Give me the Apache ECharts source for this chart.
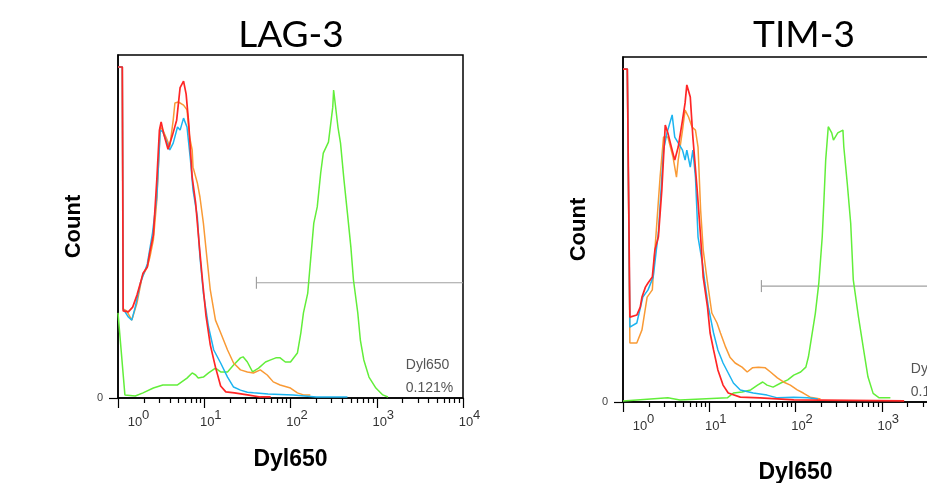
<!DOCTYPE html>
<html><head><meta charset="utf-8">
<script src="https://cdn.jsdelivr.net/npm/echarts@6/dist/echarts.min.js"></script>
<style>html,body{margin:0;padding:0;background:#fff}#c{width:927px;height:483px}</style>
</head><body><div id="c"></div>
<script>
// x values are log10(Dyl650 intensity), y values are relative counts (0-100)
const panelTitles = ['LAG-3', 'TIM-3'];
const xAxisName = 'Dyl650';
const yAxisName = 'Count';
const decadeExponents = [0, 1, 2, 3, 4];
const gateStart = 1.605, gateEnd = 4, gateLevel = 33.6;
const statLabel = 'Dyl650', statValue = '0.121%';

const lag3Red = [[0,96.5],[0.05,96.5],[0.06,25.4],[0.12,25.1],[0.17,26.5],[0.22,30],[0.26,33.5],[0.29,36.4],[0.34,38.2],[0.37,42.6],[0.41,47.5],[0.45,63.6],[0.48,78],[0.5,80.5],[0.53,77],[0.58,72.5],[0.63,76.5],[0.68,81],[0.72,90.5],[0.76,92.4],[0.79,88.6],[0.82,80],[0.86,64.4],[0.9,56.9],[0.94,45.2],[0.98,34.1],[1.02,24],[1.07,15.5],[1.13,9],[1.19,3.5],[1.25,1.8],[1.35,1.5],[1.5,0.9],[1.65,0.3],[1.77,0.3]];
const lag3Blue = [[0,96.5],[0.05,96.5],[0.06,26],[0.08,25.7],[0.12,23.6],[0.16,22.7],[0.2,26.5],[0.26,33.5],[0.34,39.1],[0.4,48.1],[0.45,58.6],[0.49,78.1],[0.52,77.6],[0.57,74.3],[0.6,72.3],[0.64,74.3],[0.69,79],[0.72,78.1],[0.76,81.6],[0.8,79],[0.84,69.4],[0.87,60.6],[0.92,52.8],[0.95,41.1],[0.99,30.6],[1.05,20.7],[1.11,14],[1.19,10.2],[1.27,6.1],[1.34,3.2],[1.42,2.3],[1.5,1.7],[1.57,1.5],[1.74,1.2],[2.03,0.9],[2.3,0.3],[2.66,0.3]];
const lag3Orange = [[0,96.5],[0.05,96.5],[0.06,26],[0.1,25.4],[0.16,22.7],[0.22,27.7],[0.28,35.3],[0.34,38.2],[0.37,41.1],[0.41,46.1],[0.45,57.7],[0.49,79],[0.52,78.1],[0.57,75.2],[0.6,73.2],[0.64,81],[0.66,86],[0.7,86.3],[0.76,85.4],[0.8,84],[0.83,76.1],[0.86,72.3],[0.87,67.3],[0.92,62.7],[0.95,58.6],[0.99,51],[1.03,41.1],[1.07,31.5],[1.13,22.7],[1.19,19],[1.27,14],[1.34,10.2],[1.42,8.2],[1.5,7.6],[1.57,7.3],[1.65,8.2],[1.73,6.7],[1.8,4.7],[1.88,3.8],[2,2.9],[2.08,1.5],[2.15,0.9],[2.23,0.9]];
const lag3Green = [[0,24.8],[0.08,0.9],[0.2,0.6],[0.29,1.5],[0.41,2.9],[0.52,3.8],[0.69,3.8],[0.8,5.8],[0.86,7.3],[0.9,6.7],[0.93,5.8],[0.99,6.1],[1.05,7.3],[1.13,8.7],[1.19,7.6],[1.27,7.6],[1.34,9.6],[1.42,11.7],[1.45,12],[1.5,10.5],[1.56,7.6],[1.63,8.7],[1.71,10.5],[1.77,11.1],[1.83,11.7],[1.88,11.7],[1.94,10.5],[2,10.5],[2.08,13.1],[2.12,19],[2.15,24.8],[2.2,30.6],[2.24,42.3],[2.27,51],[2.31,55.7],[2.35,65.6],[2.38,71.4],[2.44,74.6],[2.49,84.8],[2.5,89.8],[2.55,79],[2.58,74.3],[2.62,63.6],[2.66,53.9],[2.7,44],[2.73,34.4],[2.78,24.8],[2.81,16.9],[2.85,11.1],[2.91,6.1],[2.99,2.9],[3.07,0.9],[3.13,0.3]];

const tim3Red = [[0,96.5],[0.05,96.5],[0.08,24.6],[0.1,24.6],[0.16,25.2],[0.2,27.5],[0.22,30.4],[0.26,33.3],[0.29,34.5],[0.34,36.2],[0.37,44.1],[0.41,47.8],[0.45,61.4],[0.49,80.3],[0.52,78],[0.57,73],[0.6,70.1],[0.64,73.9],[0.69,81.7],[0.72,86.7],[0.74,91.9],[0.78,88.4],[0.81,76.8],[0.86,61.4],[0.9,47.8],[0.93,36.2],[0.98,27.5],[1.01,20],[1.05,15.1],[1.1,9.3],[1.16,4.9],[1.22,2.6],[1.36,1.4],[1.59,1.2],[1.98,0.6],[3.26,0.3]];
const tim3Blue = [[0,96.5],[0.05,96.5],[0.08,21.7],[0.16,22.9],[0.23,30.4],[0.29,32.5],[0.35,36.2],[0.41,49],[0.47,73],[0.51,78],[0.57,83.2],[0.6,76.8],[0.64,75.1],[0.69,73],[0.72,70.1],[0.74,73],[0.78,68.1],[0.81,73],[0.84,65.2],[0.87,47.8],[0.92,40.3],[0.95,34.5],[0.99,27.5],[1.05,20],[1.1,15.1],[1.16,11.3],[1.22,8.4],[1.28,5.5],[1.36,3.5],[1.51,2.6],[1.67,2],[1.79,1.2],[1.98,1.4],[2.14,1.2],[2.26,0.9]];
const tim3Orange = [[0,96.5],[0.05,96.5],[0.08,17.1],[0.16,17.1],[0.22,20.9],[0.28,30.4],[0.34,32.5],[0.37,44.1],[0.43,65.2],[0.47,76.8],[0.52,76.8],[0.58,71],[0.62,65.2],[0.64,70.1],[0.69,78.8],[0.72,84.6],[0.76,82.6],[0.8,79.7],[0.84,78.8],[0.87,73.9],[0.9,55.7],[0.93,44.1],[0.98,34.5],[1.03,25.8],[1.09,22.9],[1.13,20],[1.19,15.9],[1.24,13],[1.3,11.3],[1.38,10.1],[1.44,8.7],[1.5,9.9],[1.57,10.1],[1.65,9.9],[1.71,8.7],[1.79,7],[1.86,5.8],[1.94,4.9],[2.02,3.5],[2.09,2.6],[2.17,1.4],[2.29,0.9]];
const tim3Green = [[0,0.3],[0.52,1.2],[0.66,0.6],[1.21,1.2],[1.28,2.6],[1.38,2.9],[1.48,3.5],[1.56,4.9],[1.62,5.8],[1.67,4.9],[1.74,4.3],[1.83,5.5],[1.91,6.4],[1.98,7.8],[2.06,8.7],[2.12,10.1],[2.15,13.1],[2.23,25.7],[2.27,34.4],[2.31,47.9],[2.33,58.6],[2.35,70.1],[2.38,79.8],[2.42,78],[2.44,75.9],[2.49,78],[2.55,78.8],[2.56,74],[2.6,63.4],[2.64,51.8],[2.67,35.4],[2.73,24.7],[2.79,15.1],[2.84,7.3],[2.9,2.5],[2.97,1.2],[3.1,1.2]];

const statPos = [[3.337, 9.6], [3.337, 2.9]];

const panels = [
  { title: panelTitles[0], red: lag3Red, blue: lag3Blue, orange: lag3Orange, green: lag3Green,
    grid: {left: 118, top: 55, width: 345, height: 343}, titleX: 291, titleTop: 17, nameGap: 50 },
  { title: panelTitles[1], red: tim3Red, blue: tim3Blue, orange: tim3Orange, green: tim3Green,
    grid: {left: 623, top: 57, width: 345, height: 345}, titleX: 804, titleTop: 17, nameGap: 59 }
];
const colors = { red: '#ff2626', blue: '#1cb4f0', orange: '#f99a35', green: '#62ee3a' };

// minor tick positions on the log axis
const minorTicks = [];
for (let d = 0; d < 4; d++) for (let k = 2; k <= 9; k++) minorTicks.push(d + Math.log10(k));

const option = { animation: false, backgroundColor: '#fff', title: [], grid: [], xAxis: [], yAxis: [], series: [] };

panels.forEach((p, i) => {
  option.title.push({ text: p.title, left: p.titleX, top: p.titleTop, textAlign: 'center', padding: 0,
    textStyle: { fontFamily: 'Lato', fontSize: 37, fontWeight: 'normal', color: '#000' } });
  option.grid.push(Object.assign({ show: true, borderColor: '#000', borderWidth: 1.5, backgroundColor: 'transparent',
    containLabel: false, outerBoundsMode: 'none' }, p.grid));
  option.xAxis.push({
    gridIndex: i, type: 'value', min: 0, max: 4, interval: 1, position: 'bottom',
    axisLine: { show: true, lineStyle: { color: '#000', width: 1.5 } },
    axisTick: { show: true, length: 10, lineStyle: { color: '#000', width: 1.2 } },
    splitLine: { show: false },
    axisLabel: {
      margin: 11, color: '#333', fontFamily: 'Liberation Sans', fontSize: 13, hideOverlap: false,
      formatter: v => (v === 0 ? '{f|10}{s|' + v + '}' : '{a|10}{s|' + v + '}'),
      rich: {
        a: { fontSize: 13, lineHeight: 14, padding: [12, 0, 0, 13], color: '#333', fontFamily: 'Liberation Sans' },
        f: { fontSize: 13, lineHeight: 14, padding: [12, 0, 0, 41], color: '#333', fontFamily: 'Liberation Sans' },
        s: { fontSize: 13, lineHeight: 14, verticalAlign: 'top', color: '#333', fontFamily: 'Liberation Sans' }
      }
    },
    name: xAxisName, nameLocation: 'middle', nameGap: p.nameGap,
    nameTextStyle: { fontFamily: 'Liberation Sans', fontWeight: 'bold', fontSize: 23, color: '#000' }
  });
  option.xAxis.push({
    gridIndex: i, type: 'value', min: 0, max: 4, position: 'bottom', offset: 0,
    axisLine: { show: false }, splitLine: { show: false }, axisLabel: { show: false },
    axisTick: { show: true, length: 5, customValues: minorTicks, lineStyle: { color: '#000', width: 1.2 } }
  });
  option.yAxis.push({
    gridIndex: i, type: 'value', min: 0, max: 100,
    axisLine: { show: true, lineStyle: { color: '#000', width: 1.5 } },
    axisTick: { show: true, length: 9, customValues: [0], lineStyle: { color: '#000', width: 1.2 } },
    axisLabel: { show: true, customValues: [0], margin: 15, color: '#444', fontFamily: 'Liberation Sans', fontSize: 11 },
    splitLine: { show: false },
    name: yAxisName, nameLocation: 'middle', nameGap: 33, nameRotate: 90,
    nameTextStyle: { fontFamily: 'Liberation Sans', fontWeight: 'bold', fontSize: 22, color: '#000' }
  });
  const xi = i * 2;
  ['green', 'orange', 'blue', 'red'].forEach(c => {
    option.series.push({
      type: 'line', xAxisIndex: xi, yAxisIndex: i, data: p[c], showSymbol: false, symbol: 'none',
      lineStyle: { color: colors[c], width: c === 'red' ? 1.7 : 1.5 }, z: 3
    });
  });
  option.series.push({
    type: 'custom', xAxisIndex: xi, yAxisIndex: i, data: [[gateStart, gateEnd, gateLevel]],
    encode: { x: [0, 1], y: 2 }, z: 2,
    renderItem: (params, api) => {
      const a = api.coord([api.value(0), api.value(2)]);
      const b = api.coord([api.value(1), api.value(2)]);
      return { type: 'group', children: [
        { type: 'line', shape: { x1: a[0], y1: a[1], x2: b[0], y2: b[1] }, style: { stroke: '#a0a0a0', lineWidth: 1.2 } },
        { type: 'line', shape: { x1: a[0], y1: a[1] - 6, x2: a[0], y2: a[1] + 6 }, style: { stroke: '#a0a0a0', lineWidth: 1.2 } }
      ]};
    }
  });
  option.series.push({
    type: 'custom', xAxisIndex: xi, yAxisIndex: i,
    data: [[statPos[0][0], statPos[0][1], statLabel], [statPos[1][0], statPos[1][1], statValue]],
    encode: { x: 0, y: 1 }, z: 4,
    renderItem: (params, api) => {
      const pt = api.coord([api.value(0), api.value(1)]);
      const txt = params.dataIndex === 0 ? statLabel : statValue;
      return { type: 'text', x: pt[0], y: pt[1],
        style: { text: txt, fill: '#555', font: '14px "Liberation Sans"', align: 'left', verticalAlign: 'middle' } };
    }
  });
});

const chart = echarts.init(document.getElementById('c'), null, { renderer: 'canvas', width: 927, height: 483 });
chart.setOption(option);
</script>
</body></html>
